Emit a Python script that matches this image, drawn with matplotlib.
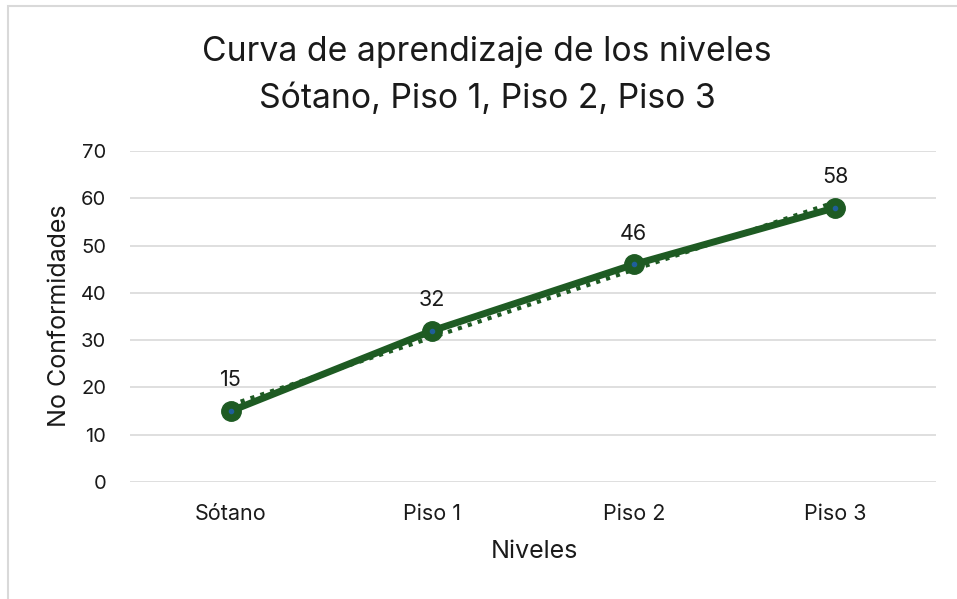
import matplotlib
matplotlib.use("Agg")
import matplotlib.pyplot as plt
import numpy as np

categories = ["Sótano", "Piso 1", "Piso 2", "Piso 3"]
values = [15, 32, 46, 58]
yticks = [0, 10, 20, 30, 40, 50, 60, 70]

plt.rcParams['font.family'] = ['Inter', 'DejaVu Sans']

fig = plt.figure(figsize=(9.57, 5.99), dpi=100)
border = plt.Rectangle((8/957, -0.01), 1.2, (599-6)/599 + 0.01, transform=fig.transFigure,
                       fill=False, edgecolor='#D9D9D9', linewidth=1.5)
fig.patches.append(border)

ax = fig.add_axes([130/957, 1-482/599, (936-130)/957, (482-151)/599])
x = np.arange(len(categories))
green = '#1E5B23'

coef = np.polyfit(x, values, 1)
ax.plot(x, np.polyval(coef, x), linestyle=(0, (1, 1.5)), color=green, linewidth=3, zorder=3)

ax.plot(x, values, color=green, linewidth=5, marker='o', markersize=14,
        markerfacecolor=green, markeredgecolor=green, zorder=4, solid_capstyle='round')
ax.plot(x, values, linestyle='none', marker='o', markersize=3, color='#1F5F9A', zorder=5)

for xi, v in zip(x, values):
    ax.annotate(str(v), (xi, v), xytext=(0, 15), textcoords='offset points',
                ha='center', va='bottom', fontsize=15.5, color='#1a1a1a')

ax.set_xlim(-0.5, len(categories) - 0.5)
ax.set_ylim(0, 70)
ax.set_yticks(yticks)
ax.set_xticks(x)
ax.set_xticklabels(categories)
ax.tick_params(axis='both', length=0, colors='#333333', labelcolor='#1a1a1a')
ax.tick_params(axis='x', pad=16, labelsize=15.5)
ax.tick_params(axis='y', pad=17, labelsize=14.5)
ax.grid(axis='y', color='#D9D9D9', linewidth=1.2)
ax.set_axisbelow(True)
for s in ax.spines.values():
    s.set_visible(False)

ax.set_xlabel("Niveles", fontsize=18, color='#1a1a1a')
ax.set_ylabel("No Conformidades", fontsize=18, color='#1a1a1a')
ax.xaxis.set_label_coords(534/957, 1-551/599, transform=fig.transFigure)
ax.yaxis.set_label_coords(60/957, 1-316/599, transform=fig.transFigure)
ax.xaxis.label.set_va('center')
ax.yaxis.label.set_va('center')
ax.yaxis.label.set_ha('center')

fig.text(487/957, 1-52/599, "Curva de aprendizaje de los niveles", ha='center', va='center',
         fontsize=24.3, color='#1a1a1a')
fig.text(487/957, 1-99/599, "Sótano, Piso 1, Piso 2, Piso 3", ha='center', va='center',
         fontsize=24.3, color='#1a1a1a')

fig.savefig("out.png", dpi=100)
